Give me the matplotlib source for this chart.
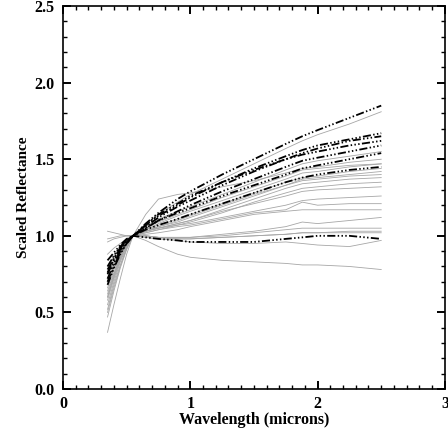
import matplotlib
matplotlib.use("Agg")
import matplotlib.pyplot as plt
from matplotlib.ticker import MultipleLocator

plt.rcParams['font.family'] = ['Liberation Serif', 'DejaVu Serif']

wavelength = [0.35, 0.40, 0.45, 0.50, 0.55, 0.65, 0.75, 0.90, 1.00, 1.25, 1.50, 1.75, 1.88, 2.00, 2.25, 2.50]

black_series = [
    [0.72, 0.82, 0.90, 0.96, 1.00, 1.08, 1.15, 1.24, 1.29, 1.40, 1.50, 1.60, 1.65, 1.69, 1.77, 1.85],
    [0.70, 0.80, 0.89, 0.95, 1.00, 1.07, 1.13, 1.20, 1.25, 1.35, 1.44, 1.52, 1.56, 1.59, 1.63, 1.67],
    [0.78, 0.85, 0.92, 0.97, 1.00, 1.06, 1.12, 1.19, 1.23, 1.33, 1.42, 1.50, 1.54, 1.57, 1.62, 1.65],
    [0.68, 0.79, 0.88, 0.95, 1.00, 1.07, 1.14, 1.21, 1.26, 1.35, 1.43, 1.50, 1.53, 1.55, 1.59, 1.62],
    [0.80, 0.87, 0.93, 0.97, 1.00, 1.05, 1.10, 1.16, 1.20, 1.29, 1.37, 1.45, 1.49, 1.51, 1.55, 1.59],
    [0.75, 0.84, 0.91, 0.96, 1.00, 1.05, 1.10, 1.15, 1.18, 1.26, 1.33, 1.40, 1.44, 1.46, 1.50, 1.54],
    [0.84, 0.89, 0.94, 0.98, 1.00, 1.04, 1.07, 1.11, 1.14, 1.21, 1.28, 1.35, 1.38, 1.40, 1.43, 1.45],
    [0.76, 0.85, 0.92, 0.97, 1.00, 0.99, 0.98, 0.97, 0.96, 0.96, 0.96, 0.98, 0.99, 1.00, 1.00, 0.98],
]

gray_series = [
    [0.60, 0.74, 0.86, 0.95, 1.00, 1.08, 1.14, 1.22, 1.27, 1.37, 1.47, 1.57, 1.62, 1.66, 1.73, 1.81],
    [0.37, 0.55, 0.72, 0.88, 1.00, 1.14, 1.24, 1.27, 1.28, 1.32, 1.36, 1.41, 1.44, 1.45, 1.48, 1.50],
    [0.55, 0.70, 0.83, 0.93, 1.00, 1.06, 1.11, 1.16, 1.19, 1.27, 1.35, 1.43, 1.47, 1.49, 1.52, 1.55],
    [0.62, 0.75, 0.86, 0.94, 1.00, 1.04, 1.08, 1.13, 1.16, 1.23, 1.30, 1.37, 1.41, 1.42, 1.45, 1.47],
    [0.66, 0.78, 0.88, 0.95, 1.00, 1.04, 1.07, 1.11, 1.14, 1.21, 1.28, 1.35, 1.38, 1.39, 1.42, 1.44],
    [0.58, 0.72, 0.84, 0.94, 1.00, 1.03, 1.06, 1.10, 1.13, 1.20, 1.27, 1.33, 1.36, 1.37, 1.39, 1.40],
    [0.70, 0.80, 0.89, 0.96, 1.00, 1.03, 1.05, 1.08, 1.10, 1.17, 1.24, 1.31, 1.34, 1.35, 1.37, 1.38],
    [0.52, 0.68, 0.81, 0.92, 1.00, 1.02, 1.04, 1.07, 1.09, 1.15, 1.22, 1.28, 1.31, 1.32, 1.34, 1.35],
    [0.64, 0.76, 0.87, 0.95, 1.00, 1.03, 1.05, 1.08, 1.10, 1.16, 1.21, 1.26, 1.29, 1.30, 1.31, 1.32],
    [0.47, 0.64, 0.79, 0.91, 1.00, 1.03, 1.05, 1.07, 1.08, 1.12, 1.16, 1.20, 1.23, 1.24, 1.25, 1.26],
    [0.72, 0.82, 0.90, 0.96, 1.00, 1.02, 1.04, 1.06, 1.07, 1.11, 1.15, 1.17, 1.22, 1.20, 1.21, 1.21],
    [0.68, 0.79, 0.88, 0.95, 1.00, 1.01, 1.02, 1.04, 1.06, 1.10, 1.14, 1.16, 1.17, 1.17, 1.17, 1.17],
    [0.75, 0.83, 0.91, 0.97, 1.00, 1.00, 0.99, 0.99, 0.99, 1.01, 1.03, 1.06, 1.09, 1.08, 1.10, 1.12],
    [0.88, 0.92, 0.95, 0.98, 1.00, 1.00, 0.99, 0.98, 0.98, 0.99, 1.00, 1.01, 1.02, 1.02, 1.03, 1.03],
    [1.03, 1.02, 1.01, 1.00, 1.00, 0.99, 0.98, 0.98, 0.98, 0.99, 1.00, 1.01, 1.02, 1.02, 1.02, 1.02],
    [0.98, 0.99, 1.00, 1.00, 1.00, 0.99, 0.98, 0.97, 0.96, 0.95, 0.95, 0.96, 0.95, 0.94, 0.93, 0.97],
    [0.96, 0.98, 0.99, 1.00, 1.00, 0.97, 0.93, 0.88, 0.86, 0.84, 0.83, 0.82, 0.81, 0.81, 0.80, 0.78],
    [0.50, 0.66, 0.80, 0.92, 1.00, 1.05, 1.09, 1.14, 1.17, 1.25, 1.32, 1.39, 1.43, 1.44, 1.46, 1.47],
    [0.60, 0.73, 0.85, 0.94, 1.00, 1.03, 1.06, 1.09, 1.12, 1.19, 1.26, 1.33, 1.37, 1.38, 1.40, 1.42],
    [0.80, 0.87, 0.93, 0.97, 1.00, 1.00, 0.99, 0.99, 0.99, 1.00, 1.02, 1.04, 1.05, 1.05, 1.05, 1.05],
]

x_ticks = [0, 1, 2, 3]
x_ticklabels = ['0', '1', '2', '3']
y_ticks = [0.0, 0.5, 1.0, 1.5, 2.0, 2.5]
y_ticklabels = ['0.0', '0.5', '1.0', '1.5', '2.0', '2.5']

fig = plt.figure(figsize=(4.48, 4.32), dpi=100)
ax = fig.add_axes([0.1406, 0.0995, 0.8524, 0.8865])

for s in gray_series:
    ax.plot(wavelength, s, color='#a6a6a6', lw=0.6, zorder=2)
for s in black_series:
    ax.plot(wavelength, s, color='black', lw=1.3, zorder=3,
            dashes=(4.5, 1.3, 0.8, 1.3, 0.8, 1.3, 0.8, 1.3))

ax.set_xlim(0, 3)
ax.set_ylim(0, 2.5)
ax.set_xticks(x_ticks)
ax.set_xticklabels(x_ticklabels)
ax.set_yticks(y_ticks)
ax.set_yticklabels(y_ticklabels)
ax.xaxis.set_minor_locator(MultipleLocator(0.1))
ax.yaxis.set_minor_locator(MultipleLocator(0.1))
ax.tick_params(which='both', direction='in', top=True, right=True,
               labelsize=11.5)
ax.tick_params(axis='x', which='both', pad=5)
ax.tick_params(axis='y', which='both', pad=6)
ax.tick_params(which='major', length=6, width=1.4)
ax.tick_params(which='minor', length=3, width=1.0)
for lab in ax.get_xticklabels() + ax.get_yticklabels():
    lab.set_fontweight('bold')
for sp in ax.spines.values():
    sp.set_linewidth(1.2)

ax.set_xlabel('Wavelength (microns)', fontsize=11.5, fontweight='bold', labelpad=0)
ax.set_ylabel('Scaled Reflectance', fontsize=11, fontweight='bold', labelpad=3)

fig.savefig('out.png', dpi=100)
